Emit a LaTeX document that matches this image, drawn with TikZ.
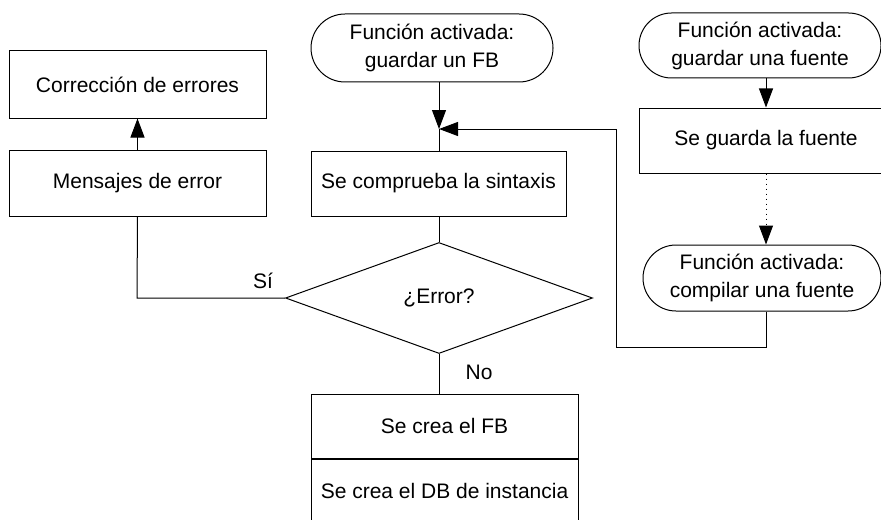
\documentclass[tikz,border=0pt]{standalone}
\usepackage{fontspec}
\setmainfont{Liberation Sans}
\usetikzlibrary{arrows.meta,positioning,shapes.geometric,shapes.misc}

\begin{document}
\begin{tikzpicture}[
  x=0.5pt,y=-0.5pt,
  line width=0.5pt,
  font=\fontsize{10.5}{14}\selectfont,
  box/.style={draw,rectangle,inner sep=0pt,align=center},
  term/.style={draw,rounded rectangle,inner sep=0pt,align=center},
  test/.style={draw,diamond,inner sep=0pt},
  arr/.style={-{Triangle[length=9.5pt,width=7pt]}}
]
\useasboundingbox (0,0) rectangle (881,519);
\clip (0,0) rectangle (881,519);
% left column
\node[box,minimum width=128.5pt,minimum height=33.5pt] (corr) at (137.5,84.5) {Corrección de errores};
\node[box,minimum width=128.5pt,minimum height=33pt] (msg) at (137.5,183) {Mensajes de error};
% middle column
\node[term,minimum width=121pt,minimum height=34pt] (fbstart) at (432,48) {Función activada:\\guardar un FB};
\node[box,minimum width=127.5pt,minimum height=32.5pt] (check) at (438.5,183.5) {Se comprueba la sintaxis};
\node[test,minimum width=153.5pt,minimum height=55.5pt] (err) at (439,298) {¿Error?};
\node[box,minimum width=133.5pt,minimum height=32pt] (crfb) at (444.5,426) {Se crea el FB};
\node[box,minimum width=133.5pt,minimum height=32pt,below=0pt of crfb] (crdb) {Se crea el DB de instancia};
% right column
\node[term,minimum width=121pt,minimum height=32.5pt] (srcstart) at (760,45.5) {Función activada:\\guardar una fuente};
\node[box,minimum width=127pt,minimum height=32.5pt] (save) at (766,140.5) {Se guarda la fuente};
\node[term,minimum width=119pt,minimum height=33pt] (compile) at (762,278) {Función activada:\\compilar una fuente};
% labels and bends
\node (si) at (263,281) {Sí};
\node (no) at (479,372) {No};
\coordinate (join) at (439,129);
\coordinate (loop) at (616,347);
\coordinate (sibend) at (137,298);
% connectors
\draw[arr] (msg) -- (corr);
\draw (msg.south) -- (sibend) -- (err.west);
\draw[arr] (fbstart.south -| join) -- (join);
\draw (join) -- (join |- check.north);
\draw (check.south -| err.north) -- (err.north);
\draw (err.south) -- (err.south |- crfb.north);
\draw[arr] (srcstart.south -| save.north) -- (save.north);
\draw[arr,dotted] (save.south) -- (save.south |- compile.north);
\draw[arr] (compile.south -| save.south) |- (loop) |- (join);
\end{tikzpicture}
\end{document}
